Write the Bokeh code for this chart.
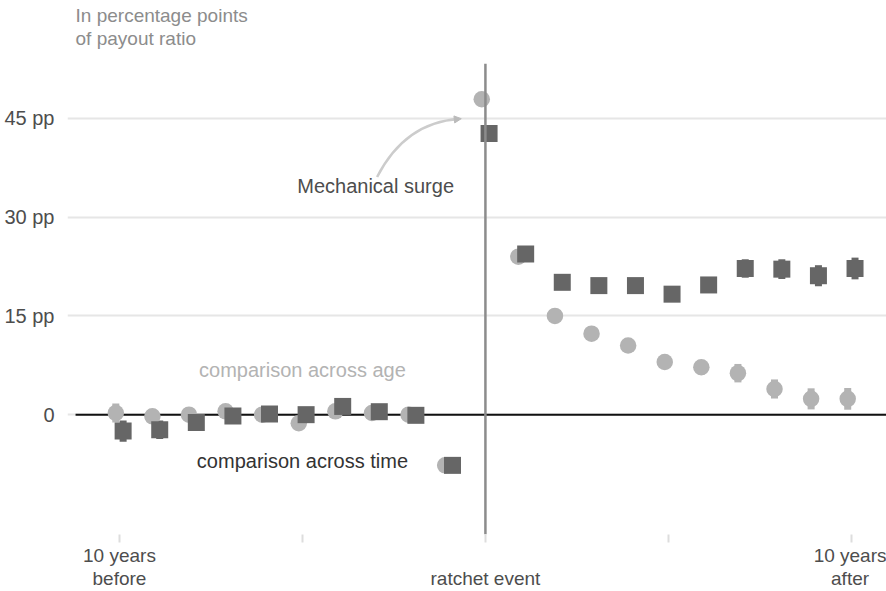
from bokeh.plotting import figure
from bokeh.models import Label, Arrow, NormalHead, FixedTicker, Range1d
from bokeh.embed import file_html
from bokeh.resources import INLINE

# Years relative to the ratchet event
years = list(range(-10, 11))

# Comparison across age (circles), percentage points of payout ratio
age_vals = [0.25, -0.25, 0.0, 0.5, 0.0, -1.3, 0.5, 0.25, 0.0, -7.7,
            47.9, 24.0, 15.0, 12.3, 10.5, 8.0, 7.2, 6.3, 3.9, 2.4, 2.4]
age_err = [1.45, 0.9, 0.8, 0.8, 0.8, 0.9, 0.9, 0.9, 0.9, 0.9,
           1.0, 1.0, 1.0, 1.0, 1.0, 1.0, 1.1, 1.4, 1.45, 1.6, 1.65]

# Comparison across time (squares)
time_vals = [-2.5, -2.3, -1.2, -0.2, 0.1, 0.0, 1.25, 0.45, -0.1, -7.7,
             42.7, 24.4, 20.1, 19.6, 19.6, 18.3, 19.7, 22.2, 22.1, 21.1, 22.2]
time_err = [1.6, 1.4, 1.2, 1.0, 1.0, 1.0, 1.0, 1.0, 1.0, 1.0,
            1.0, 1.0, 1.1, 1.1, 1.1, 1.1, 1.2, 1.4, 1.5, 1.6, 1.65]

y_ticks = [0, 15, 30, 45]
y_tick_labels = ["0", "15 pp", "30 pp", "45 pp"]
x_ticks = [-10, -5, 0, 5, 10]
x_tick_labels = ["10 years\nbefore", "", "\nratchet event", "", "10 years\nafter"]

FONT = "Liberation Sans"
DODGE = 0.1
LIGHT = "#b3b3b3"
DARK = "#666666"
Y_BOTTOM, Y_TOP = -18.2, 62.9      # full plotting area, including the header strip
PANEL_TOP = 53.3                   # upper end of the event line

p = figure(width=886, height=591, output_backend="svg", toolbar_location=None,
           x_range=Range1d(-11.42, 10.96), y_range=Range1d(Y_BOTTOM, Y_TOP),
           min_border_left=67, min_border_right=0, min_border_top=0,
           min_border_bottom=56, outline_line_color=None)

# Axes
p.yaxis.ticker = FixedTicker(ticks=y_ticks)
p.yaxis.major_label_overrides = dict(zip(y_ticks, y_tick_labels))
p.yaxis.axis_line_color = None
p.yaxis.major_tick_line_color = None
p.yaxis.minor_tick_line_color = None
p.yaxis.major_label_standoff = 7
p.yaxis.major_label_text_font = FONT
p.yaxis.major_label_text_font_size = "20px"
p.yaxis.major_label_text_color = "#4d4d4d"

p.xaxis.ticker = FixedTicker(ticks=x_ticks)
p.xaxis.major_label_overrides = dict(zip(x_ticks, x_tick_labels))
p.xaxis.axis_line_color = None
p.xaxis.major_tick_line_color = "#dddddd"
p.xaxis.major_tick_line_width = 2
p.xaxis.major_tick_in = 0
p.xaxis.major_tick_out = 8
p.xaxis.minor_tick_line_color = None
p.xaxis.major_label_standoff = 2
p.xaxis.major_label_text_font = FONT
p.xaxis.major_label_text_font_size = "19px"
p.xaxis.major_label_text_line_height = 1.1
p.xaxis.major_label_text_color = "#4d4d4d"

p.xgrid.grid_line_color = None
p.ygrid.ticker = FixedTicker(ticks=y_ticks)
p.ygrid.grid_line_color = "#e6e6e6"
p.ygrid.grid_line_width = 2

# Unit note in the header strip
p.add_layout(Label(x=-11.2, y=62.2, text="In percentage points\nof payout ratio",
                   text_align="left", text_baseline="top", text_line_height=1.1,
                   text_font=FONT, text_font_size="19px", text_color="#8c8c8c"))

# Zero baseline
p.segment(x0=[-11.2], y0=[0], x1=[10.96], y1=[0], line_color="#111111", line_width=2)

age_x = [y - DODGE for y in years]
time_x = [y + DODGE for y in years]

# Confidence bars
p.segment(x0=age_x, x1=age_x,
          y0=[v - e for v, e in zip(age_vals, age_err)],
          y1=[v + e for v, e in zip(age_vals, age_err)],
          line_color=LIGHT, line_width=7, line_cap="butt")
p.segment(x0=time_x, x1=time_x,
          y0=[v - e for v, e in zip(time_vals, time_err)],
          y1=[v + e for v, e in zip(time_vals, time_err)],
          line_color=DARK, line_width=7, line_cap="butt")

# Point estimates
p.scatter(age_x, age_vals, marker="circle", size=16.5, fill_color=LIGHT, line_color=None)
p.scatter(time_x, time_vals, marker="square", size=17, fill_color=DARK, line_color=None)

# Ratchet event marker, drawn over the points
p.segment(x0=[0], y0=[Y_BOTTOM], x1=[0], y1=[PANEL_TOP], line_color="#8c8c8c", line_width=2.5)

# Annotations
def note(x, y, text, color):
    p.add_layout(Label(x=x, y=y, text=text, text_align="center", text_baseline="middle",
                       text_font=FONT, text_font_size="20px", text_color=color))

note(-3.0, 34.8, "Mechanical surge", "#4d4d4d")
note(-5.0, 6.8, "comparison across age", "#b3b3b3")
note(-5.0, -7.1, "comparison across time", "#333333")

# Curved pointer towards the surge
p.quadratic(x0=[-2.96], y0=[36.1], cx=[-2.19], cy=[44.4], x1=[-0.72], y1=[44.9],
            line_color="#cccccc", line_width=2.5)
p.add_layout(Arrow(x_start=-1.0, y_start=44.75, x_end=-0.66, y_end=44.95,
                   line_color=None,
                   end=NormalHead(size=7, fill_color="#bbbbbb", line_color="#bbbbbb")))

open("out.html", "w").write(file_html(p, INLINE))
